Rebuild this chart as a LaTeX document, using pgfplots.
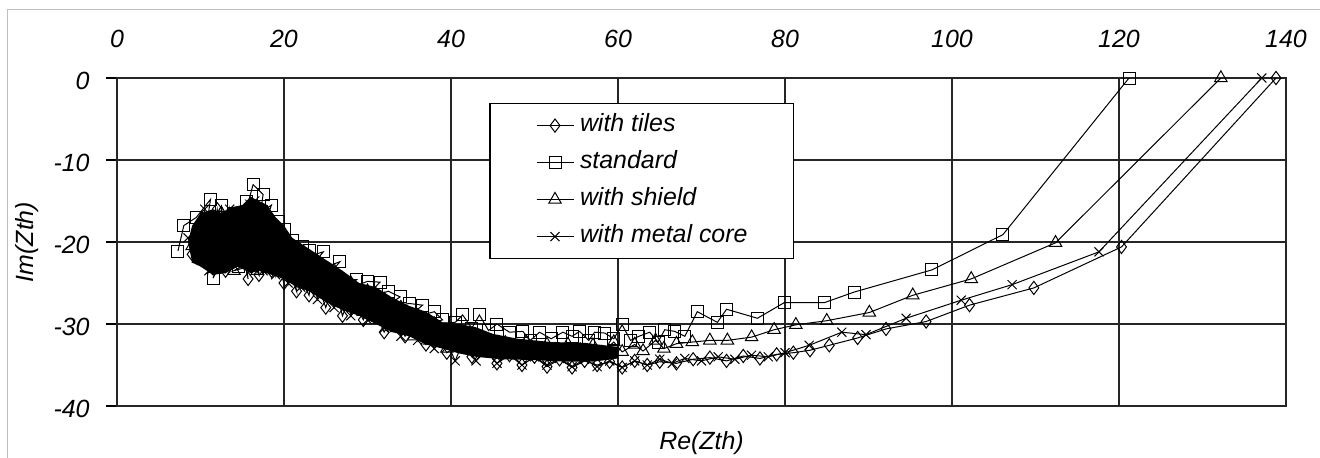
\documentclass[border=0pt]{standalone}
\usepackage{pgfplots}
\pgfplotsset{compat=1.18}
\usepackage{fontspec}
\setmainfont{Liberation Sans}
\newcommand\lf{\fontsize{12.5}{15}\selectfont\itshape}
\begin{document}
\begin{tikzpicture}
\useasboundingbox (-58.5bp,-26bp) rectangle (601.5bp,203bp);
\draw[black!25, line width=0.5bp] (-54.5bp,-40bp) -- (-54.5bp,198bp) -- (620bp,198bp);
\begin{axis}[
  at={(0,0)}, anchor=south west, scale only axis,
  width=584.5bp, height=164bp,
  xmin=0, xmax=140, ymin=-40, ymax=0,
  xtick={0,20,...,140}, ytick={-40,-30,...,0},
  xticklabels={0,20,40,60,80,100,120,140},
  yticklabels={-40,-30,-20,-10,0},
  xticklabel pos=upper,
  xtick style={draw=none},
  ytick pos=left, ytick align=outside,
  major tick length=5.5bp,
  ytick style={black, line width=0.9bp},
  grid=major, grid style={black!85, line width=0.9bp},
  axis line style={black!85, line width=0.9bp},
  /pgf/number format/assume math mode=true,
  xticklabel style={font=\lf, anchor=base, yshift=15.5bp},
  yticklabel style={font=\lf, anchor=east, inner xsep=0pt, xshift=-8bp, yshift=-1.5bp},
  every axis x label/.style={at={(axis description cs:0.5,-0.134)}, anchor=base, font=\lf},
  every axis y label/.style={at={(axis description cs:-0.0766,0.5)}, anchor=center, rotate=90, font=\lf},
  xlabel={Re(Zth)}, ylabel={Im(Zth)},
  every axis plot/.append style={black, line width=0.5bp, mark options={solid, fill=none, line width=0.5bp}},
  legend image code/.code={\draw[mark repeat=2,mark phase=2] plot coordinates {(0bp,0bp) (9.25bp,0bp) (18.5bp,0bp)};},
  legend cell align=left,
  legend style={at={(axis cs:44.6,-3.05)}, anchor=north west, draw=black, line width=0.6bp,
    fill=white, font=\lf, inner xsep=23bp, inner ysep=5bp, row sep=6.5bp,
    nodes={inner sep=0pt, text height=9bp, text depth=3bp},
    /tikz/every odd column/.append style={column sep=3bp}},
]
% dense core of the overlapping high-frequency points
\addplot[fill=black, draw=none, forget plot] coordinates {
(8.5,-20) (9,-18) (10,-16.5) (11.5,-16) (12.5,-16.5) (13.5,-15.8) (15,-15.5) (16,-14.5)
(17,-15) (18,-15.5) (19,-17) (20,-18) (21,-19.5) (22.5,-20.5) (24,-21.5) (25.5,-22.5)
(27,-23.5) (29,-25) (31,-25.5) (33,-26.8) (35,-27.8) (37,-28.5) (39,-29.8) (41,-30)
(43,-30.4) (45,-31.2) (48,-31.8) (52,-32.2) (56,-32.3) (60,-32.8)
(60,-34.2) (57,-34.6) (54,-34.6) (50,-34.4) (46,-34.3) (43,-34) (41,-33.6) (39,-33)
(37,-32.5) (35,-31.5) (33,-31) (31,-30) (29,-29) (27,-28.3) (25,-27.3) (23,-26)
(21.5,-25.5) (20,-24.5) (18.5,-24) (17,-23.5) (16,-23.8) (14.5,-23) (13,-23.8)
(11.5,-24) (10,-23) (9,-22.5)} -- cycle;
% with tiles
\addplot[mark=diamond, mark size=3.3bp] coordinates {
(9.0,-21.5) (10.0,-18.5) (11.0,-22.5) (12.0,-16.0) (13.0,-23.5) (14.0,-17.0) (15.7,-24.5)
(15.0,-19.5) (17.0,-24.0) (16.5,-17.0) (18.5,-23.5) (18.0,-19.0) (20.0,-25.0) (19.5,-20.5)
(21.5,-26.0) (21.0,-22.0) (23.0,-26.5) (23.5,-23.5) (25.0,-28.0) (26.0,-25.0) (27.0,-29.0)
(28.0,-26.5) (29.5,-29.5) (30.5,-27.5) (32.0,-31.0) (33.0,-29.0) (34.5,-31.5) (35.5,-30.0)
(37.0,-32.5) (38.0,-31.0) (39.5,-33.5) (41.0,-32.5) (42.5,-34.0) (44.0,-33.0) (45.5,-34.8)
(47.0,-33.8) (48.5,-35.0) (50.0,-34.0) (51.5,-35.2) (53.0,-34.3) (54.5,-35.3) (56.0,-34.5)
(57.5,-35.0) (59.0,-34.6) (60.5,-35.3) (62.0,-34.5) (63.5,-35.0) (65.0,-34.6) (67.0,-34.8)
(69.0,-34.3) (71.0,-34.1) (73.0,-34.5) (75.0,-33.9) (77.0,-34.2) (79.0,-33.7) (81.0,-33.5)
(83.0,-33.2) (85.3,-32.6) (88.7,-31.7) (92.1,-30.6) (96.9,-29.7) (102.1,-27.7) (109.8,-25.6)
(120.3,-20.6) (138.8,0)};
\addlegendentry{with tiles}
% standard
\addplot[mark=square, mark size=3bp] coordinates {
(7.3,-21.1) (8.0,-18.0) (9.5,-17.0) (11.2,-14.8) (10.5,-19.5) (12.5,-15.6) (13.2,-22.0)
(14.0,-16.5) (11.5,-24.4) (15.0,-17.8) (16.3,-13.0) (17.5,-14.2) (16.5,-21.0) (18.5,-15.5)
(13.5,-19.0) (19.3,-17.5) (12.0,-20.5) (17.8,-19.0) (20.0,-18.5) (15.5,-15.0) (19.0,-21.0)
(21.0,-19.8) (14.5,-23.0) (22.2,-20.5) (18.0,-23.0) (23.0,-21.0) (20.5,-22.5) (24.7,-21.2)
(22.5,-24.0) (26.7,-22.4) (25.0,-24.5) (28.7,-24.6) (27.0,-26.0) (30.0,-24.8) (31.5,-24.9)
(29.5,-27.0) (32.5,-26.0) (33.9,-26.7) (32.0,-28.0) (35.0,-27.5) (36.6,-27.7) (34.5,-29.5)
(38.0,-28.5) (39.0,-29.5) (37.0,-30.0) (40.5,-29.8) (41.4,-28.9) (42.5,-30.5) (43.4,-28.9)
(44.5,-30.8) (45.5,-30.0) (47.0,-31.0) (48.6,-30.9) (49.5,-32.0) (50.6,-31.0) (52.0,-31.8)
(53.4,-31.0) (54.5,-31.5) (55.4,-30.9) (56.5,-32.0) (57.2,-31.0) (58.4,-31.1) (59.5,-31.8)
(60.5,-30.1) (61.5,-32.0) (62.5,-31.5) (63.8,-31.0) (64.8,-32.2) (65.6,-30.7) (66.8,-30.9)
(68.0,-31.5) (69.5,-28.5) (71.9,-29.8) (73.0,-28.2) (76.7,-29.3) (79.9,-27.4) (84.7,-27.4)
(88.3,-26.1) (97.6,-23.4) (106.1,-19.1) (121.2,0)};
\addlegendentry{standard}
% with shield
\addplot[mark=triangle, mark size=3.6bp] coordinates {
(9.0,-20.5) (10.0,-17.5) (11.5,-22.5) (12.5,-16.5) (13.0,-21.0) (14.5,-17.0) (15.5,-22.5)
(16.0,-16.0) (17.0,-20.0) (18.0,-16.5) (16.8,-23.5) (19.0,-19.0) (12.0,-19.0) (20.0,-20.0)
(14.0,-23.5) (21.0,-21.5) (19.5,-23.5) (22.5,-21.5) (21.5,-24.5) (24.0,-22.5) (23.5,-25.5)
(26.0,-23.5) (25.5,-26.5) (28.0,-25.0) (27.5,-27.5) (30.0,-26.0) (29.5,-28.5) (32.0,-27.0)
(31.5,-29.5) (34.0,-28.0) (33.5,-30.5) (36.0,-29.0) (35.5,-31.5) (38.0,-30.0) (37.5,-32.0)
(40.0,-31.0) (39.5,-33.0) (42.0,-31.5) (43.0,-33.0) (44.0,-32.0) (45.5,-33.5) (46.5,-32.3)
(48.0,-33.3) (49.0,-32.2) (50.5,-33.5) (51.5,-32.5) (53.0,-33.6) (54.0,-32.5) (55.5,-33.2)
(57.0,-32.6) (58.0,-33.5) (59.5,-32.2) (60.5,-33.4) (62.0,-32.5) (63.0,-33.3) (64.5,-32.0)
(65.5,-33.0) (67.0,-32.4) (68.9,-32.2) (71.0,-32.0) (73.1,-32.0) (76.0,-31.6) (78.7,-30.7)
(81.3,-30.1) (85.0,-29.6) (90.1,-28.6) (95.3,-26.5) (102.3,-24.5) (112.4,-20.1) (132.2,0)};
\addlegendentry{with shield}
% with metal core
\addplot[mark=x, mark size=3.2bp] coordinates {
(8.5,-19.5) (9.5,-22.0) (10.5,-16.0) (11.0,-23.5) (12.0,-17.5) (13.0,-23.0) (13.5,-16.0)
(14.5,-21.5) (15.0,-18.0) (16.0,-22.5) (16.5,-15.0) (17.5,-23.5) (18.0,-17.5) (19.0,-24.0)
(19.5,-19.5) (20.5,-25.0) (21.0,-20.5) (22.0,-25.5) (23.0,-22.0) (24.0,-27.0) (25.0,-23.5)
(26.0,-28.0) (27.0,-24.5) (28.0,-29.0) (29.0,-26.0) (30.0,-29.5) (31.0,-27.0) (32.0,-30.5)
(33.0,-28.0) (34.0,-31.5) (35.0,-29.0) (36.0,-32.0) (37.0,-30.0) (38.0,-33.0) (39.0,-31.0)
(40.5,-34.5) (41.5,-32.0) (43.0,-34.5) (44.0,-33.0) (45.5,-34.8) (47.0,-33.5) (48.5,-35.0)
(50.0,-34.0) (51.5,-35.0) (53.0,-34.2) (54.5,-35.2) (56.0,-34.3) (57.5,-35.2) (59.0,-34.5)
(60.5,-35.3) (62.0,-34.5) (63.5,-35.0) (65.0,-34.3) (66.5,-34.8) (68.0,-34.2) (70.0,-34.5)
(72.0,-34.0) (74.0,-34.3) (76.0,-33.8) (78.0,-34.0) (80.0,-33.5) (82.9,-32.6) (86.8,-31.0)
(89.7,-31.3) (94.5,-29.3) (101.1,-27.1) (107.2,-25.2) (117.6,-21.2) (137.1,0)};
\addlegendentry{with metal core}
\end{axis}
\end{tikzpicture}
\end{document}
